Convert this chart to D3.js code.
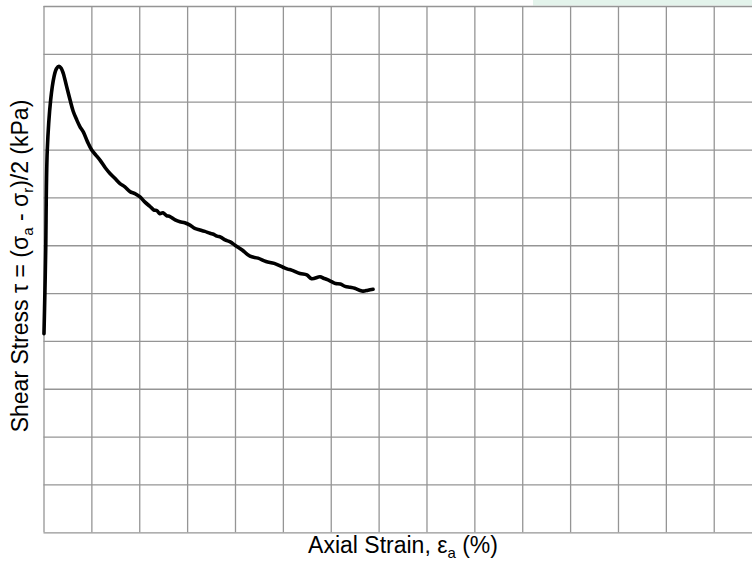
<!DOCTYPE html>
<html>
<head>
<meta charset="utf-8">
<script src="https://cdn.jsdelivr.net/npm/d3@7"></script>
<style>
  body { margin: 0; background: #fff; }
  svg { display: block; font-family: "Liberation Sans", Arial, sans-serif; }
</style>
</head>
<body>
<div id="chart"></div>
<script>
// axial strain (%) and shear stress (kPa)
var strain = [0.01, 0.03, 0.046, 0.079, 0.15, 0.219, 0.27, 0.324, 0.37, 0.414, 0.48, 0.554, 0.62, 0.694, 0.76, 0.831,
              0.92, 1.007, 1.09, 1.18, 1.29, 1.389, 1.49, 1.598, 1.70, 1.807, 1.91, 2.016, 2.12, 2.225, 2.30, 2.371,
              2.43, 2.496, 2.57, 2.642, 2.75, 2.851, 2.95, 3.06, 3.16, 3.269, 3.37, 3.478, 3.55, 3.624, 3.70, 3.792,
              3.90, 4.0, 4.15, 4.313, 4.48, 4.648, 4.82, 5.003, 5.10, 5.18, 5.358, 5.50, 5.60, 5.776, 5.85, 5.93,
              6.016, 6.10, 6.20, 6.30, 6.403, 6.50, 6.60, 6.675, 6.78, 6.884];
var stress = [41.5, 50.5, 59.0, 79.9, 90.4, 95.2, 96.9, 97.4, 97.0, 95.9, 93.3, 90.4, 88.0, 86.2, 84.8, 83.7,
              81.6, 79.9, 78.9, 77.8, 76.2, 75.0, 74.0, 72.9, 72.2, 71.2, 70.8, 70.1, 69.0, 68.1, 67.4, 67.2,
              66.6, 66.8, 66.2, 66.0, 65.3, 64.9, 64.7, 64.2, 63.5, 63.2, 62.9, 62.5, 62.3, 61.9, 61.7, 61.1,
              60.7, 60.0, 59.0, 57.7, 57.3, 56.6, 56.2, 55.4, 55.0, 54.8, 54.1, 53.8, 53.0, 53.4, 53.1, 52.8,
              52.4, 52.0, 51.9, 51.4, 51.2, 51.0, 50.6, 50.4, 50.6, 50.8];

var xTicks = d3.range(0, 16, 1);
var yTicks = d3.range(0, 120, 10);

var W = 752, H = 562;
var mLeft = 43.5, mTop = 6, plotW = 718.1, plotH = 526.3;

var svg = d3.select("#chart").append("svg")
            .attr("width", W)
            .attr("height", H);

// pale band along the top edge
svg.append("rect")
   .attr("x", 533).attr("y", 0)
   .attr("width", W - 533).attr("height", 5.5)
   .attr("fill", "#e3f3eb");

var x = d3.scaleLinear().domain([0, 15]).range([0, plotW]);
var y = d3.scaleLinear().domain([0, 110]).range([plotH, 0]);

var g = svg.append("g")
           .attr("transform", "translate(" + mLeft + "," + mTop + ")");

// grid from the axes, labels left out
g.append("g")
 .attr("class", "grid")
 .attr("transform", "translate(0," + plotH + ")")
 .call(d3.axisBottom(x).tickValues(xTicks).tickSize(-plotH).tickFormat(""));

g.append("g")
 .attr("class", "grid")
 .call(d3.axisLeft(y).tickValues(yTicks).tickSize(-plotW).tickFormat(""));

g.selectAll(".grid .domain").remove();
g.selectAll(".grid line")
 .attr("stroke", "#959595")
 .attr("stroke-width", 1.3);

var line = d3.line()
             .x((d, i) => x(strain[i]))
             .y(d => y(d))
             .curve(d3.curveCatmullRom);

g.append("path")
 .datum(stress)
 .attr("d", line)
 .attr("fill", "none")
 .attr("stroke", "#000")
 .attr("stroke-width", 3.6)
 .attr("stroke-linejoin", "round")
 .attr("stroke-linecap", "round");

// axis titles
var xt = svg.append("text")
            .attr("x", 403).attr("y", 553)
            .attr("text-anchor", "middle")
            .attr("font-size", 23)
            .attr("fill", "#000");
xt.append("tspan").text("Axial Strain, ε");
xt.append("tspan").attr("font-size", 15).attr("dy", 5).text("a");
xt.append("tspan").attr("dy", -5).text(" (%)");

var yt = svg.append("text")
            .attr("transform", "translate(28,266) rotate(-90)")
            .attr("text-anchor", "middle")
            .attr("font-size", 23)
            .attr("fill", "#000");
yt.append("tspan").text("Shear Stress τ = (σ");
yt.append("tspan").attr("font-size", 15).attr("dy", 5).text("a");
yt.append("tspan").attr("dy", -5).text(" - σ");
yt.append("tspan").attr("font-size", 15).attr("dy", 5).text("r");
yt.append("tspan").attr("dy", -5).text(")/2 (kPa)");
</script>
</body>
</html>
